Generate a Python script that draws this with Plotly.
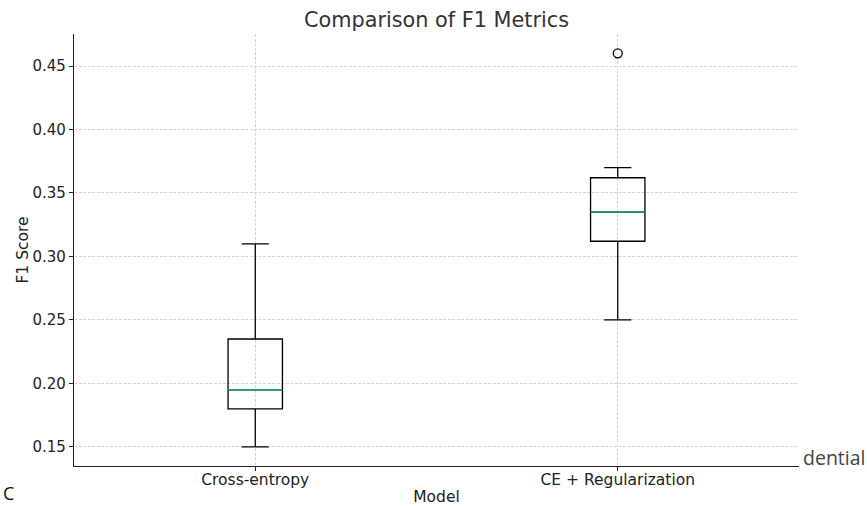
import plotly.graph_objects as go

categories = ["Cross-entropy", "CE + Regularization"]
positions = [1, 2]
lower_whisker = [0.15, 0.25]
q1 = [0.18, 0.312]
median = [0.195, 0.335]
q3 = [0.235, 0.362]
upper_whisker = [0.31, 0.37]
outliers = [[], [0.46]]

y_ticks = [0.15, 0.20, 0.25, 0.30, 0.35, 0.40, 0.45]
box_width = 0.15

W, H = 867, 506
ML, MR, MT, MB = 74, 68, 34, 40
PW, PH = W - ML - MR, H - MT - MB

fig = go.Figure()
for i, cat in enumerate(categories):
    fig.add_trace(go.Box(
        x=[positions[i]], q1=[q1[i]], median=[median[i]], q3=[q3[i]],
        lowerfence=[lower_whisker[i]], upperfence=[upper_whisker[i]],
        width=box_width, whiskerwidth=0.5,
        line=dict(color="black", width=1.3), fillcolor="rgba(0,0,0,0)",
        boxpoints=False, showlegend=False, name=cat, hoverinfo="skip",
    ))
    fig.add_trace(go.Scatter(
        x=[positions[i] - box_width / 2, positions[i] + box_width / 2],
        y=[median[i], median[i]], mode="lines",
        line=dict(color="#1f9e78", width=1.5), showlegend=False, hoverinfo="skip",
    ))
    if outliers[i]:
        fig.add_trace(go.Scatter(
            x=[positions[i]] * len(outliers[i]), y=outliers[i], mode="markers",
            marker=dict(symbol="circle-open", size=9, color="black", line=dict(width=1.3)),
            showlegend=False, hoverinfo="skip",
        ))

grid_style = dict(showgrid=True, gridcolor="#d6d6d6", griddash="3px,1.5px", gridwidth=0.8)

fig.update_layout(
    width=W, height=H,
    margin=dict(l=ML, r=MR, t=MT, b=MB, pad=0),
    paper_bgcolor="white", plot_bgcolor="white",
    font=dict(family="DejaVu Sans", size=15.5, color="#222222"),
    title=dict(text="Comparison of F1 Metrics", x=(305 + 568) / 2 / W, xanchor="center",
               xref="container", y=1 - 20 / H, yanchor="middle",
               font=dict(size=20.8, color="#333333")),
    xaxis=dict(
        range=[0.5, 2.5], tickmode="array", tickvals=positions, ticktext=categories,
        showline=True, linecolor="#222222", linewidth=1.2, ticks="outside",
        ticklen=4, tickcolor="#222222", zeroline=False, automargin=False,
        ticklabelstandoff=-5,
        title=dict(text="Model", standoff=4, font=dict(size=15.5)),
        **grid_style,
    ),
    yaxis=dict(
        range=[0.135, 0.4752], tickmode="array", tickvals=y_ticks,
        ticktext=[f"{v:.2f}" for v in y_ticks],
        tickfont=dict(size=15),
        showline=True, linecolor="#222222", linewidth=1.2, ticks="outside",
        ticklen=4, tickcolor="#222222", zeroline=False, automargin=False,
        title=dict(text="F1 Score", standoff=0, font=dict(size=15.5)),
        **grid_style,
    ),
    annotations=[
        dict(text="dential", xref="paper", yref="paper",
             x=(801 - ML) / PW, y=(H - MB - 457) / PH,
             xanchor="left", yanchor="middle", showarrow=False,
             font=dict(family="Open Sans", size=19.5, color="#444444")),
        dict(text="C", xref="paper", yref="paper",
             x=(2 - ML) / PW, y=(H - MB - 493) / PH,
             xanchor="left", yanchor="middle", showarrow=False, borderpad=0,
             font=dict(family="Open Sans", size=18, color="#111111")),
    ],
)

fig.write_html("out.html", config={"displayModeBar": False},
               post_script="document.body.style.margin='0px';")
